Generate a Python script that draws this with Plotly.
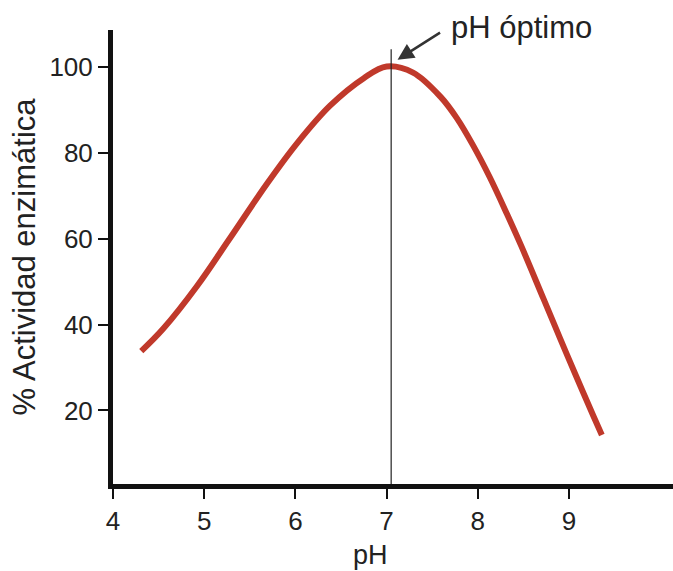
import plotly.graph_objects as go

# Data
ph = [4.31, 4.55, 4.92, 5.28, 5.69, 6.02, 6.38, 6.75, 7.0, 7.29, 7.59, 7.77, 7.95,
      8.13, 8.32, 8.48, 8.72, 8.90, 9.08, 9.27, 9.36]
actividad = [33.8, 39.0, 48.9, 60.0, 72.8, 82.2, 90.9, 97.3, 100.0, 98.6, 93.0, 88.0, 81.6,
             74.3, 65.7, 58.1, 46.0, 36.9, 27.9, 18.6, 14.3]
x_ticks = [4, 5, 6, 7, 8, 9]
y_ticks = [20, 40, 60, 80, 100]
ph_optimo = 7.05
annot_text = "pH óptimo"

FONT = "Liberation Sans, Arial, sans-serif"
W, H = 673, 571
ML, MR, MT, MB = 113, 0, 30, 87
PW, PH = W - ML - MR, H - MT - MB

fig = go.Figure()
fig.add_trace(go.Scatter(
    x=ph, y=actividad, mode="lines",
    line=dict(color="#c0392b", width=6, shape="spline", smoothing=1.0),
    hoverinfo="x+y", showlegend=False,
))

# vertical optimum line
fig.add_shape(type="line", x0=ph_optimo, x1=ph_optimo, y0=2.9, y1=104,
              xref="x", yref="y", line=dict(color="#222222", width=1.2))

# arrow pointing at the optimum
fig.add_annotation(x=7.12, y=101.6, xref="x", yref="y", text="",
                   showarrow=True, arrowhead=2, arrowsize=1.3, arrowwidth=2.5,
                   arrowcolor="#333333", ax=44, ay=-28)
# label
fig.add_annotation(x=(521 - ML) / PW, y=(H - MB - 27) / PH, xref="paper", yref="paper",
                   text=annot_text, showarrow=False, xanchor="center", yanchor="middle",
                   font=dict(family=FONT, size=31, color="#222222"))

# x axis title
fig.add_annotation(x=6.82, y=-0.118, xref="x", yref="paper", text="pH",
                   showarrow=False, yanchor="top",
                   font=dict(family=FONT, size=27, color="#222222"))

fig.update_layout(
    width=W, height=H,
    margin=dict(l=ML, r=MR, t=MT, b=MB),
    paper_bgcolor="white", plot_bgcolor="white",
    font=dict(family=FONT, color="#222222"),
    xaxis=dict(range=[4, 4 + PW / 91.2], tickvals=x_ticks, ticks="outside", ticklen=10, tickwidth=2,
               tickcolor="#111", showline=True, linewidth=5, linecolor="#111",
               showgrid=False, zeroline=False, tickfont=dict(size=26, family=FONT)),
    yaxis=dict(range=[2.9, 108.5], tickvals=y_ticks, ticks="outside", ticklen=10, tickwidth=2,
               tickcolor="#111", showline=True, linewidth=5, linecolor="#111",
               showgrid=False, zeroline=False, tickfont=dict(size=26, family=FONT),
               title=dict(text="% Actividad enzimática", standoff=6,
                          font=dict(size=31, family=FONT))),
)

fig.write_html("out.html", config={"displayModeBar": False},
               post_script="document.body.style.margin='0';")
